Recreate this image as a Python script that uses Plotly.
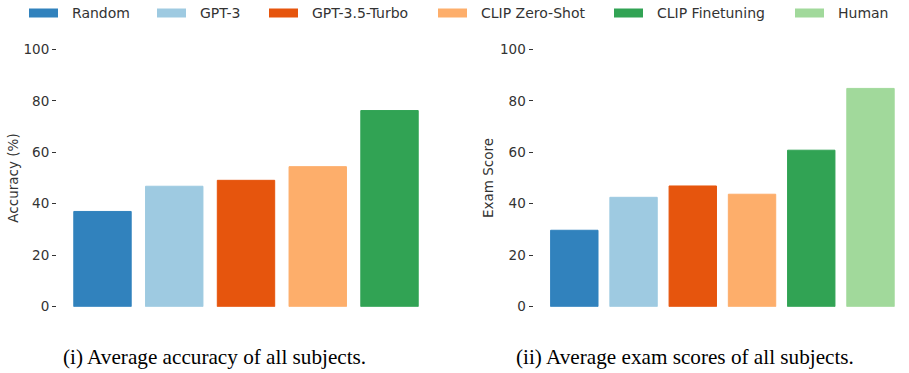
import plotly.graph_objects as go

# ---------------- data ----------------
models_acc = ["Random", "GPT-3", "GPT-3.5-Turbo", "CLIP Zero-Shot", "CLIP Finetuning"]
accuracy = [37.0, 46.8, 49.1, 54.4, 76.2]

models_exam = ["Random", "GPT-3", "GPT-3.5-Turbo", "CLIP Zero-Shot", "CLIP Finetuning", "Human"]
exam_score = [29.7, 42.5, 46.9, 43.7, 60.8, 84.8]

legend_names = ["Random", "GPT-3", "GPT-3.5-Turbo", "CLIP Zero-Shot", "CLIP Finetuning", "Human"]
y_ticks = [0, 20, 40, 60, 80, 100]

captions = ["(i) Average accuracy of all subjects.", "(ii) Average exam scores of all subjects."]
y_titles = ["Accuracy (%)", "Exam Score"]

# ---------------- style ----------------
COLORS = {
    "Random": "#3182bd",
    "GPT-3": "#9ecae1",
    "GPT-3.5-Turbo": "#e6550d",
    "CLIP Zero-Shot": "#fdae6b",
    "CLIP Finetuning": "#31a354",
    "Human": "#a1d99b",
}
W, H = 909, 373
TXT = "#333333"
SANS = "DejaVu Sans"
SERIF = "Liberation Serif"

fig = go.Figure()

fig.add_trace(go.Bar(
    x=models_acc, y=accuracy, width=0.8,
    marker=dict(color=[COLORS[m] for m in models_acc],
                line=dict(color=[COLORS[m] for m in models_acc], width=1)),
    xaxis="x", yaxis="y", showlegend=False, hoverinfo="x+y",
))
fig.add_trace(go.Bar(
    x=models_exam, y=exam_score, width=0.8,
    marker=dict(color=[COLORS[m] for m in models_exam],
                line=dict(color=[COLORS[m] for m in models_exam], width=1)),
    xaxis="x2", yaxis="y2", showlegend=False, hoverinfo="x+y",
))

y_dom = [(H - 306.7) / H, (H - 49.3) / H]
common_y = dict(
    range=[0, 100], tickvals=y_ticks, ticks="outside", ticklen=4, tickwidth=1,
    tickcolor=TXT, showgrid=False, zeroline=False, showline=False,
    tickfont=dict(family=SANS, size=13.5, color=TXT),
    domain=y_dom, automargin=False,
)
common_x = dict(type="category", showticklabels=False, ticks="", showgrid=False,
                zeroline=False, showline=False, automargin=False)

fig.update_layout(
    width=W, height=H,
    margin=dict(l=0, r=0, t=0, b=0, autoexpand=False),
    paper_bgcolor="white", plot_bgcolor="white",
    xaxis=dict(common_x, domain=[57 / W, 435 / W], range=[-0.634, 4.634], anchor="y"),
    xaxis2=dict(common_x, domain=[533.5 / W, 1.0], range=[-0.689, 5.65], anchor="y2"),
    yaxis=dict(common_y, anchor="x",
               title=dict(text=y_titles[0], standoff=1,
                          font=dict(family=SANS, size=13.5, color=TXT))),
    yaxis2=dict(common_y, anchor="x2",
                title=dict(text=y_titles[1], standoff=3,
                           font=dict(family=SANS, size=13.5, color=TXT))),
    showlegend=False,
    bargap=0.2,
)

# custom legend row (swatch rectangles + labels)
legend_swatch_x = [29, 157, 269, 438, 614, 795]
sw_w, sw_h, leg_y = 29, 9, 13
shapes = []
annotations = []
for name, x0 in zip(legend_names, legend_swatch_x):
    shapes.append(dict(type="rect", xref="paper", yref="paper",
                       x0=x0 / W, x1=(x0 + sw_w) / W,
                       y0=(H - leg_y - sw_h / 2) / H, y1=(H - leg_y + sw_h / 2) / H,
                       fillcolor=COLORS[name], line=dict(width=0)))
    annotations.append(dict(text=name, xref="paper", yref="paper",
                            x=(x0 + sw_w + 12) / W, y=(H - leg_y) / H,
                            xanchor="left", yanchor="middle", showarrow=False,
                            font=dict(family=SANS, size=14, color=TXT)))

# captions
for cap, cx in zip(captions, [214, 685]):
    annotations.append(dict(text=cap, xref="paper", yref="paper",
                            x=cx / W, y=(H - 357) / H, xanchor="center", yanchor="middle",
                            showarrow=False,
                            font=dict(family=SERIF, size=21.2, color="black")))

fig.update_layout(shapes=shapes, annotations=annotations)

fig.write_html("out.html",
               config={"displayModeBar": False},
               post_script="document.body.style.margin='0';document.body.style.overflow='hidden';")
